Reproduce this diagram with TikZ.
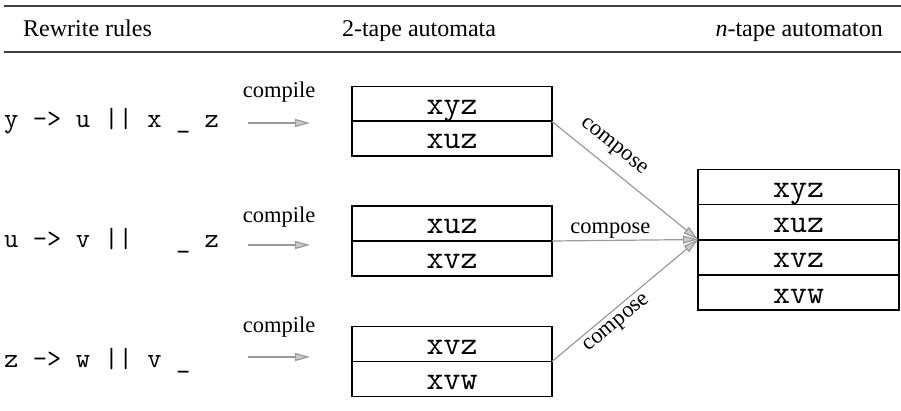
\documentclass[tikz,border=0pt]{standalone}
\usepackage{fontspec}
\setmainfont{Liberation Serif}
\usetikzlibrary{arrows.meta}
\definecolor{rulegray}{HTML}{404040}
\definecolor{flowgray}{HTML}{9A9A9A}
\definecolor{tipfill}{HTML}{CCCCCC}
\begin{document}
\begin{tikzpicture}[x=1pt,y=-1pt,
  hdr/.style={font=\fontsize{24}{28}\selectfont, inner sep=0},
  rulesrc/.style={font=\ttfamily\fontsize{27.8}{32}\selectfont, inner sep=0, anchor=base west},
  cell/.style={draw=black, line width=1.8pt, minimum width=200pt, minimum height=35pt,
    inner sep=0, outer sep=0, text height=21pt, text depth=0pt,
    font=\ttfamily\fontsize{33}{36}\selectfont},
  bigcell/.style={cell, minimum width=201pt},
  flow/.style={draw=flowgray, line width=1.2pt,
    -{Triangle[length=15pt, width=8pt, fill=tipfill]}},
  lbl/.style={font=\fontsize{22.5}{26}\selectfont, inner sep=0, text=black}
]
\useasboundingbox (0,0) rectangle (901,411);

% table header
\draw[rulegray, line width=1.7pt] (4,5.7) -- (901,5.7);
\draw[rulegray, line width=1.7pt] (4,51.7) -- (901,51.7);
\node[hdr, anchor=base west] (h1) at (23,37) {Rewrite rules};
\node[hdr, anchor=base] (h2) at (419,37) {2-tape automata};
\node[hdr, anchor=base east] (h3) at (883,37) {\textit{n}-tape automaton};

% rewrite rules
\node[rulesrc] (r1) at (4,128) {y -> u || x \_ z};
\node[rulesrc] (r2) at (4,248) {u -> v ||~~~\_ z};
\node[rulesrc] (r3) at (4,367) {z -> w || v \_};

% compile arrows
\coordinate (c1s) at (248,123); \coordinate (c1e) at (310,123);
\coordinate (c2s) at (248,245); \coordinate (c2e) at (310,245);
\coordinate (c3s) at (248,357); \coordinate (c3e) at (310,357);
\draw[flow] (c1s) -- (c1e) node[lbl, midway, above=20pt] (k1) {compile};
\draw[flow] (c2s) -- (c2e) node[lbl, midway, above=17pt] (k2) {compile};
\draw[flow] (c3s) -- (c3e) node[lbl, midway, above=19pt] (k3) {compile};

% 2-tape automata
\node[cell] (a1) at (452,104) {xyz};
\node[cell] (a2) at (452,138.5) {xuz};
\node[cell] (b1) at (452,223.5) {xuz};
\node[cell] (b2) at (452,258.5) {xvz};
\node[cell] (d1) at (452,344) {xvz};
\node[cell] (d2) at (452,379) {xvw};

% n-tape automaton
\node[bigcell] (n1) at (798.5,187) {xyz};
\node[bigcell] (n2) at (798.5,222) {xuz};
\node[bigcell] (n3) at (798.5,257.5) {xvz};
\node[bigcell] (n4) at (798.5,292.5) {xvw};

% composition
\draw[flow] (a1.south east) -- (n2.south west)
  node[lbl, sloped, pos=0.34, above=10pt] (m1) {compose};
\draw[flow] (b1.south east) -- (n2.south west)
  node[lbl, pos=0.4, above=2pt] (m2) {compose};
\draw[flow] (d1.south east) -- (n2.south west)
  node[lbl, sloped, pos=0.39, below=5pt] (m3) {compose};
\end{tikzpicture}
\end{document}
